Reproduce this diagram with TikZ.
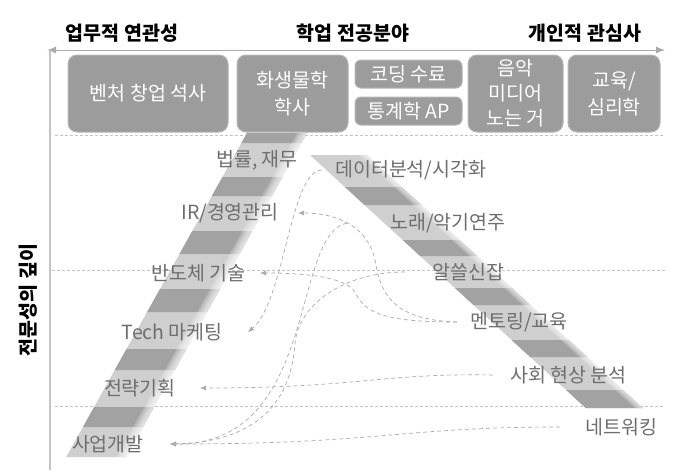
\documentclass[tikz,border=0pt]{standalone}
\usepackage{fontspec}
\setmainfont{Noto Sans CJK KR}
\usepackage{tikz}
\usetikzlibrary{arrows.meta,calc}
\definecolor{boxgray}{HTML}{9C9C9C}
\definecolor{darkband}{HTML}{A2A2A2}
\definecolor{lightband}{HTML}{CFCFCF}
\definecolor{labelgray}{HTML}{6E6E6E}
\definecolor{linegray}{HTML}{ABABAB}
\definecolor{rulegray}{HTML}{C4C4C4}
\tikzset{
	headtitle/.style={font=\fontsize{19.5}{22}\selectfont\bfseries, text=black, inner sep=0},
	topbox/.style={rounded corners=9pt, fill=boxgray, draw=boxgray!75, line width=1pt, text=white, align=center, inner sep=0,
		font=\fontsize{19.5}{27}\selectfont},
	stripelabel/.style={font=\fontsize{19.5}{22}\selectfont, text=labelgray, inner sep=0},
	linkcurve/.style={draw=linegray, line width=0.7pt, dash pattern=on 4pt off 3pt,
		-{Latex[length=6pt,width=5pt]}},
	gridrule/.style={draw=rulegray, line width=0.6pt, dash pattern=on 3pt off 2pt}
}
\def\leftband[#1](#2:#3){\fill[#1] ({247-0.558*(#2-133)}, #2) -- ({307-0.558*(#2-133)}, #2) -- ({307-0.558*(#3-133)}, #3) -- ({247-0.558*(#3-133)}, #3) -- cycle;}
\def\rightband[#1](#2:#3){\fill[#1] ({310+1.09*(#2-155)}, #2) -- ({367+1.09*(#2-155)}, #2) -- ({367+1.09*(#3-155)}, #3) -- ({310+1.09*(#3-155)}, #3) -- cycle;}

\begin{document}
\begin{tikzpicture}[x=1pt, y=-1pt]
		%%%%% START %%%%%
		\useasboundingbox (0, 0) rectangle (697, 475);
		
		\node[headtitle] (work) at (122, 33) {업무적 연관성};
		\node[headtitle] (major) at (353, 33) {학업 전공분야};
		\node[headtitle] (hobby) at (585, 33) {개인적 관심사};
		
		\coordinate (axisL) at (47, 50);
		\coordinate (axisR) at (665, 50);
		\coordinate (axisB) at (50, 470);
		\draw[linegray, line width=1pt, {Latex[length=9pt,width=7pt]}-{Latex[length=9pt,width=7pt]}] (axisL) -- (axisR);
		\draw[rulegray, line width=1.5pt] (50, 50) -- (axisB);
		\node[headtitle, rotate=90] (depth) at (28, 300) {전문성의 깊이};
		
		\node[topbox, minimum width=160, minimum height=77] (venture) at (148, 93.5) {벤처 창업 석사};
		\node[topbox, minimum width=111, minimum height=77] (chem) at (292.5, 93.5) {화생물학\\학사};
		\node[topbox, minimum width=107, minimum height=28, rounded corners=6pt] (coding) at (408.5, 74) {코딩 수료};
		\node[topbox, minimum width=107, minimum height=28, rounded corners=6pt] (stats) at (408.5, 111) {통계학 AP};
		\node[topbox, minimum width=95, minimum height=77, font=\fontsize{19.5}{25}\selectfont] (music) at (515.5, 93.5) {음악\\미디어\\노는 거};
		\node[topbox, minimum width=92, minimum height=77] (edu) at (614, 93.5) {교육/\\심리학};
		
		\draw[gridrule] (55, 135) -- (665, 135);
		\draw[gridrule] (52, 270) -- (665, 270);
		\draw[gridrule] (55, 406) -- (665, 406);
		
		% left stripe
		\leftband[lightband](133:457);
		\leftband[darkband](133:143);
		\leftband[darkband](177:196);
		\leftband[darkband](231:254);
		\leftband[darkband](289:312);
		\leftband[darkband](349:370);
		\leftband[darkband](407:427);
		\foreach \k in {2,4,...,10}
			\fill[white, opacity=0.2] ({307-\k-0.558*(0)}, 133) -- (307, 133) -- ({307-0.558*(324)}, 457) -- ({307-\k-0.558*(324)}, 457) -- cycle;
		
		% right stripe
		\rightband[lightband](155:408);
		\rightband[darkband](187:205);
		\rightband[darkband](240:256);
		\rightband[darkband](288:305);
		\rightband[darkband](340:357);
		\rightband[darkband](390:408);
		\foreach \k in {2,4,...,8}
			\fill[white, opacity=0.2] ({367-\k}, 155) -- (367, 155) -- ({367+1.09*(253)}, 408) -- ({367-\k+1.09*(253)}, 408) -- cycle;
		
		\node[stripelabel, anchor=east] (law) at (298, 160) {법률, 재무};
		\node[stripelabel, anchor=east] (ir) at (279, 213) {IR/경영관리};
		\node[stripelabel, anchor=east] (semi) at (246, 273) {반도체 기술};
		\node[stripelabel, anchor=east] (tech) at (223, 332) {Tech 마케팅};
		\node[stripelabel, anchor=east] (strat) at (176, 388) {전략기획};
		\node[stripelabel, anchor=east] (biz) at (144, 444) {사업개발};
		
		\node[stripelabel, anchor=west] (data) at (335, 170) {데이터분석/시각화};
		\node[stripelabel, anchor=west] (norae) at (390, 223) {노래/악기연주};
		\node[stripelabel, anchor=west] (alsseul) at (432, 272) {알쓸신잡};
		\node[stripelabel, anchor=west] (mentor) at (470, 322) {멘토링/교육};
		\node[stripelabel, anchor=west] (social) at (510, 375) {사회 현상 분석};
		\node[stripelabel, anchor=west] (net) at (585, 427) {네트워킹};
		
		\draw[linkcurve] ([xshift=-13pt]data.west) .. controls +(-32, 0) and +(37, -31) .. ([xshift=25pt]tech.east);
		\draw[linkcurve] ([xshift=-43pt]norae.west) .. controls +(-57, 12) and +(150, 1) .. ([xshift=26pt]biz.east);
		\draw[linkcurve] ([xshift=-27pt]alsseul.west) .. controls +(-60, 0) and +(3, -40) .. ++(-110, 72) .. controls +(-4, 55) and +(90, -2) .. ([xshift=26pt]biz.east);
		\draw[linkcurve] ([xshift=-13pt]mentor.west) .. controls +(-57, -2) and +(6, 35) .. ++(-81, -57) .. controls +(-6, -40) and +(37, 0) .. ([xshift=19pt]ir.east);
		\draw[linkcurve] ([xshift=-13pt]mentor.west) .. controls +(-77, 0) and +(10, 20) .. ++(-102, -30) .. controls +(-10, -16) and +(40, 0) .. ([xshift=14pt]semi.east);
		\draw[linkcurve] ([xshift=-17pt]social.west) .. controls +(-113, -2) and +(160, 0) .. ([xshift=24pt]strat.east);
		\draw[linkcurve] ([xshift=-25pt]net.west) .. controls +(-160, 0) and +(210, 0) .. ([xshift=26pt]biz.east);
		
		%%%%% END %%%%%
	\end{tikzpicture}
\end{document}
